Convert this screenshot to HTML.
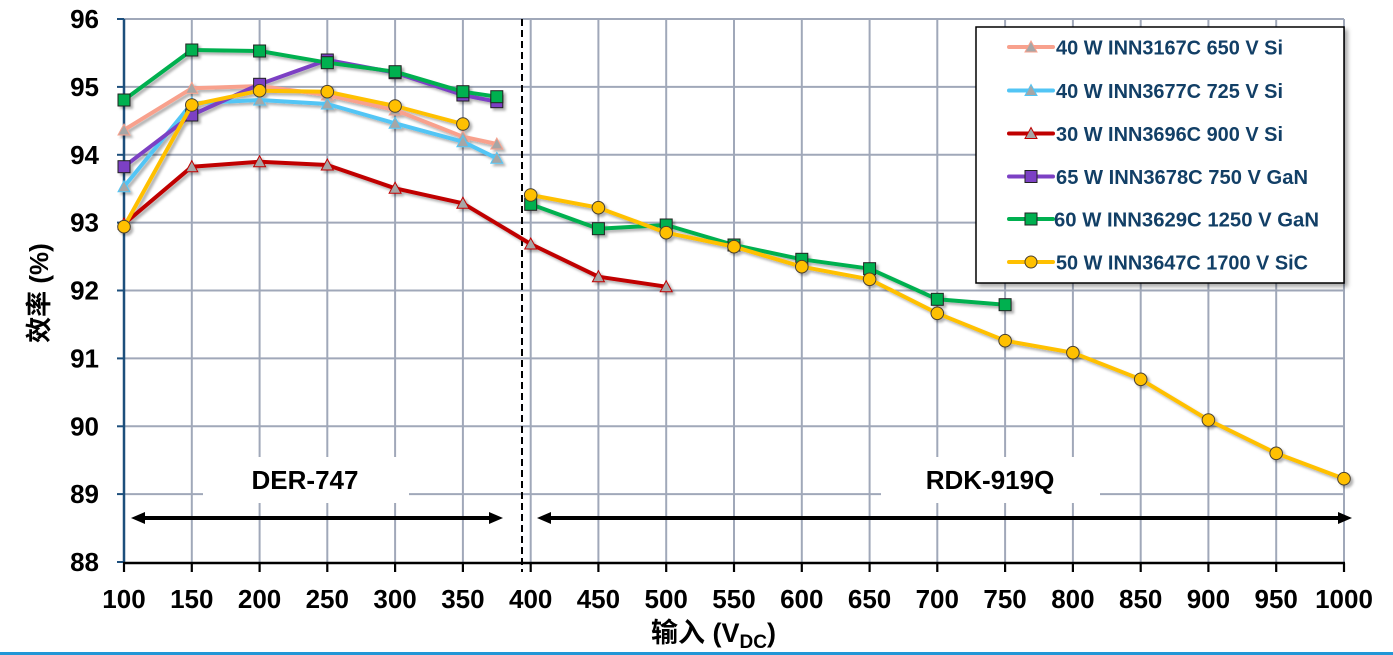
<!DOCTYPE html>
<html>
<head>
<meta charset="utf-8">
<style>
html,body{margin:0;padding:0;background:#fff;}
svg{display:block;}
text{font-family:"Liberation Sans","Noto Sans CJK SC",sans-serif;font-weight:bold;}
</style>
</head>
<body>
<svg width="1393" height="655" viewBox="0 0 1393 655" xmlns="http://www.w3.org/2000/svg">
<defs>
  <filter id="sh" x="-10%" y="-10%" width="130%" height="130%">
    <feDropShadow dx="2.5" dy="2.5" stdDeviation="1.4" flood-color="#000" flood-opacity="0.3"/>
  </filter>
  <filter id="lsh" x="-5%" y="-5%" width="115%" height="115%">
    <feDropShadow dx="3" dy="3" stdDeviation="2" flood-color="#000" flood-opacity="0.35"/>
  </filter>
  <marker id="tPink" markerUnits="userSpaceOnUse" markerWidth="16" markerHeight="16" refX="8" refY="8" viewBox="0 0 16 16" overflow="visible">
    <polygon points="8,2 14,13 2,13" fill="#a6a6a6" stroke="#f8a18d" stroke-width="1"/>
  </marker>
  <marker id="tCyan" markerUnits="userSpaceOnUse" markerWidth="16" markerHeight="16" refX="8" refY="8" viewBox="0 0 16 16" overflow="visible">
    <polygon points="8,2 14,13 2,13" fill="#a6a6a6" stroke="#52c5f5" stroke-width="1"/>
  </marker>
  <marker id="tRed" markerUnits="userSpaceOnUse" markerWidth="16" markerHeight="16" refX="8" refY="8" viewBox="0 0 16 16" overflow="visible">
    <polygon points="8,2 14,13 2,13" fill="#a6a6a6" stroke="#c00000" stroke-width="1"/>
  </marker>
  <marker id="sPur" markerUnits="userSpaceOnUse" markerWidth="16" markerHeight="16" refX="8" refY="8" viewBox="0 0 16 16" overflow="visible">
    <rect x="2" y="2" width="12" height="12" fill="#7c41c4" stroke="#222" stroke-width="1"/>
  </marker>
  <marker id="sGrn" markerUnits="userSpaceOnUse" markerWidth="16" markerHeight="16" refX="8" refY="8" viewBox="0 0 16 16" overflow="visible">
    <rect x="2" y="2" width="12" height="12" fill="#00b050" stroke="#222" stroke-width="1"/>
  </marker>
  <marker id="cYel" markerUnits="userSpaceOnUse" markerWidth="16" markerHeight="16" refX="8" refY="8" viewBox="0 0 16 16" overflow="visible">
    <circle cx="8" cy="8" r="6.3" fill="#ffc000" stroke="#4a4030" stroke-width="1"/>
  </marker>
</defs>

<!-- grid -->
<g stroke="#a0a8b9" stroke-width="2">
  <line x1="124" y1="19" x2="1344" y2="19"/>
  <line x1="124" y1="86.9" x2="1344" y2="86.9"/>
  <line x1="124" y1="154.8" x2="1344" y2="154.8"/>
  <line x1="124" y1="222.6" x2="1344" y2="222.6"/>
  <line x1="124" y1="290.5" x2="1344" y2="290.5"/>
  <line x1="124" y1="358.4" x2="1344" y2="358.4"/>
  <line x1="124" y1="426.3" x2="1344" y2="426.3"/>
  <line x1="124" y1="494.1" x2="1344" y2="494.1"/>
  <line x1="191.8" y1="19" x2="191.8" y2="562"/>
  <line x1="259.6" y1="19" x2="259.6" y2="562"/>
  <line x1="327.3" y1="19" x2="327.3" y2="562"/>
  <line x1="395.1" y1="19" x2="395.1" y2="562"/>
  <line x1="462.9" y1="19" x2="462.9" y2="562"/>
  <line x1="530.7" y1="19" x2="530.7" y2="562"/>
  <line x1="598.4" y1="19" x2="598.4" y2="562"/>
  <line x1="666.2" y1="19" x2="666.2" y2="562"/>
  <line x1="734" y1="19" x2="734" y2="562"/>
  <line x1="801.8" y1="19" x2="801.8" y2="562"/>
  <line x1="869.6" y1="19" x2="869.6" y2="562"/>
  <line x1="937.3" y1="19" x2="937.3" y2="562"/>
  <line x1="1005.1" y1="19" x2="1005.1" y2="562"/>
  <line x1="1072.9" y1="19" x2="1072.9" y2="562"/>
  <line x1="1140.7" y1="19" x2="1140.7" y2="562"/>
  <line x1="1208.4" y1="19" x2="1208.4" y2="562"/>
  <line x1="1276.2" y1="19" x2="1276.2" y2="562"/>
  <line x1="1344" y1="19" x2="1344" y2="562"/>
</g>

<!-- label boxes -->
<rect x="203" y="457" width="206" height="46" fill="#fff"/>
<rect x="881" y="457" width="219" height="46" fill="#fff"/>
<text x="305" y="489" font-size="26" text-anchor="middle" fill="#000">DER-747</text>
<text x="990" y="489" font-size="26" text-anchor="middle" fill="#000">RDK-919Q</text>

<!-- arrows -->
<g fill="#000" stroke="none">
  <rect x="140" y="516" width="354" height="4"/>
  <polygon points="131,518 145,512 145,524"/>
  <polygon points="503,518 489,512 489,524"/>
  <rect x="546" y="516" width="797" height="4"/>
  <polygon points="537,518 551,512 551,524"/>
  <polygon points="1352,518 1338,512 1338,524"/>
</g>

<!-- dashed divider -->
<line x1="522" y1="19" x2="522" y2="572" stroke="#000" stroke-width="2" stroke-dasharray="7,4"/>

<!-- axes -->
<line x1="124" y1="19" x2="124" y2="563" stroke="#1d4f7c" stroke-width="2.5"/>
<g stroke="#1d4f7c" stroke-width="2">
  <line x1="117" y1="19" x2="124" y2="19"/>
  <line x1="117" y1="86.9" x2="124" y2="86.9"/>
  <line x1="117" y1="154.8" x2="124" y2="154.8"/>
  <line x1="117" y1="222.6" x2="124" y2="222.6"/>
  <line x1="117" y1="290.5" x2="124" y2="290.5"/>
  <line x1="117" y1="358.4" x2="124" y2="358.4"/>
  <line x1="117" y1="426.3" x2="124" y2="426.3"/>
  <line x1="117" y1="494.1" x2="124" y2="494.1"/>
  <line x1="117" y1="562" x2="124" y2="562"/>
</g>
<line x1="123" y1="563" x2="1345" y2="563" stroke="#000" stroke-width="2.5"/>
<g stroke="#000" stroke-width="2.2">
  <line x1="124" y1="563" x2="124" y2="572"/>
  <line x1="191.8" y1="563" x2="191.8" y2="572"/>
  <line x1="259.6" y1="563" x2="259.6" y2="572"/>
  <line x1="327.3" y1="563" x2="327.3" y2="572"/>
  <line x1="395.1" y1="563" x2="395.1" y2="572"/>
  <line x1="462.9" y1="563" x2="462.9" y2="572"/>
  <line x1="530.7" y1="563" x2="530.7" y2="572"/>
  <line x1="598.4" y1="563" x2="598.4" y2="572"/>
  <line x1="666.2" y1="563" x2="666.2" y2="572"/>
  <line x1="734" y1="563" x2="734" y2="572"/>
  <line x1="801.8" y1="563" x2="801.8" y2="572"/>
  <line x1="869.6" y1="563" x2="869.6" y2="572"/>
  <line x1="937.3" y1="563" x2="937.3" y2="572"/>
  <line x1="1005.1" y1="563" x2="1005.1" y2="572"/>
  <line x1="1072.9" y1="563" x2="1072.9" y2="572"/>
  <line x1="1140.7" y1="563" x2="1140.7" y2="572"/>
  <line x1="1208.4" y1="563" x2="1208.4" y2="572"/>
  <line x1="1276.2" y1="563" x2="1276.2" y2="572"/>
  <line x1="1344" y1="563" x2="1344" y2="572"/>
</g>

<!-- y tick labels -->
<g font-size="26" text-anchor="end" fill="#000">
  <text x="99" y="28">96</text>
  <text x="99" y="95.9">95</text>
  <text x="99" y="163.8">94</text>
  <text x="99" y="231.6">93</text>
  <text x="99" y="299.5">92</text>
  <text x="99" y="367.4">91</text>
  <text x="99" y="435.3">90</text>
  <text x="99" y="503.1">89</text>
  <text x="99" y="571">88</text>
</g>

<!-- x tick labels -->
<g font-size="26" text-anchor="middle" fill="#000">
  <text x="124" y="608">100</text>
  <text x="191.8" y="608">150</text>
  <text x="259.6" y="608">200</text>
  <text x="327.3" y="608">250</text>
  <text x="395.1" y="608">300</text>
  <text x="462.9" y="608">350</text>
  <text x="530.7" y="608">400</text>
  <text x="598.4" y="608">450</text>
  <text x="666.2" y="608">500</text>
  <text x="734" y="608">550</text>
  <text x="801.8" y="608">600</text>
  <text x="869.6" y="608">650</text>
  <text x="937.3" y="608">700</text>
  <text x="1005.1" y="608">750</text>
  <text x="1072.9" y="608">800</text>
  <text x="1140.7" y="608">850</text>
  <text x="1208.4" y="608">900</text>
  <text x="1276.2" y="608">950</text>
  <text x="1344" y="608">1000</text>
</g>

<!-- axis titles -->
<text x="651" y="642" font-size="27" fill="#000">输入 (V<tspan font-size="19" dy="6">DC</tspan><tspan dy="-6">)</tspan></text>
<text transform="translate(48,293) rotate(-90)" font-size="26" text-anchor="middle" fill="#000">效率 (%)</text>

<!-- series -->
<g fill="none" stroke-width="4" stroke-linejoin="round" stroke-linecap="round" filter="url(#sh)">
  <polyline stroke="#f8a18d" marker-start="url(#tPink)" marker-mid="url(#tPink)" marker-end="url(#tPink)"
    points="124,130 191.8,88.3 259.6,86 327.3,95 395.1,110 462.9,136.7 496.8,144"/>
  <polyline stroke="#52c5f5" marker-start="url(#tCyan)" marker-mid="url(#tCyan)" marker-end="url(#tCyan)"
    points="124,186.7 191.8,103.3 259.6,100 327.3,104 395.1,123.3 462.9,141.7 496.8,158.3"/>
  <polyline stroke="#c00000" marker-start="url(#tRed)" marker-mid="url(#tRed)" marker-end="url(#tRed)"
    points="124,224 191.8,166.7 259.6,161.7 327.3,165 395.1,188.3 462.9,203.3 530.7,244 598.4,276.7 666.2,286.7"/>
  <polyline stroke="#7c41c4" marker-start="url(#sPur)" marker-mid="url(#sPur)" marker-end="url(#sPur)"
    points="124,166.7 191.8,115 259.6,84.3 327.3,60 395.1,72.7 462.9,95 496.8,101.7"/>
  <polyline stroke="#00b050" marker-start="url(#sGrn)" marker-mid="url(#sGrn)" marker-end="url(#sGrn)"
    points="124,100 191.8,50 259.6,51 327.3,62.7 395.1,71.7 462.9,91.7 496.8,96.7"/>
  <polyline stroke="#00b050" marker-start="url(#sGrn)" marker-mid="url(#sGrn)" marker-end="url(#sGrn)"
    points="530.7,204.3 598.4,228.7 666.2,225 734,245 801.8,259.3 869.6,268.7 937.3,299.3 1005.1,304.7"/>
  <polyline stroke="#ffc000" marker-start="url(#cYel)" marker-mid="url(#cYel)" marker-end="url(#cYel)"
    points="124,226.7 191.8,105 259.6,90.7 327.3,91.7 395.1,106 462.9,124"/>
  <polyline stroke="#ffc000" marker-start="url(#cYel)" marker-mid="url(#cYel)" marker-end="url(#cYel)"
    points="530.7,195 598.4,207.7 666.2,232.7 734,246.7 801.8,266.7 869.6,279.3 937.3,313.3 1005.1,340.7 1072.9,352.7 1140.7,379.3 1208.4,420 1276.2,453.3 1344,478.7"/>
</g>

<!-- legend -->
<rect x="976" y="27" width="368" height="256" fill="#fff" stroke="#000" stroke-width="1.5" filter="url(#lsh)"/>
<g stroke-width="4" stroke-linecap="round">
  <line x1="1009" y1="47" x2="1053" y2="47" stroke="#f8a18d"/>
  <line x1="1009" y1="90.5" x2="1053" y2="90.5" stroke="#52c5f5"/>
  <line x1="1009" y1="133.5" x2="1053" y2="133.5" stroke="#c00000"/>
  <line x1="1009" y1="176.5" x2="1053" y2="176.5" stroke="#7c41c4"/>
  <line x1="1009" y1="219" x2="1053" y2="219" stroke="#00b050"/>
  <line x1="1009" y1="262" x2="1053" y2="262" stroke="#ffc000"/>
</g>
<polygon points="1031,41 1037,52 1025,52" fill="#a6a6a6" stroke="#f8a18d" stroke-width="1"/>
<polygon points="1031,84.5 1037,95.5 1025,95.5" fill="#a6a6a6" stroke="#52c5f5" stroke-width="1"/>
<polygon points="1031,127.5 1037,138.5 1025,138.5" fill="#a6a6a6" stroke="#c00000" stroke-width="1"/>
<rect x="1025" y="170.5" width="12" height="12" fill="#7c41c4" stroke="#222" stroke-width="1"/>
<rect x="1025" y="213" width="12" height="12" fill="#00b050" stroke="#222" stroke-width="1"/>
<circle cx="1031" cy="262" r="6" fill="#ffc000" stroke="#4a4030" stroke-width="1"/>
<g font-size="20" fill="#123f66">
  <text x="1056" y="54.5" textLength="227" lengthAdjust="spacingAndGlyphs">40 W INN3167C 650 V Si</text>
  <text x="1056" y="98" textLength="227" lengthAdjust="spacingAndGlyphs">40 W INN3677C 725 V Si</text>
  <text x="1056" y="141" textLength="227" lengthAdjust="spacingAndGlyphs">30 W INN3696C 900 V Si</text>
  <text x="1056" y="184" textLength="252" lengthAdjust="spacingAndGlyphs">65 W INN3678C 750 V GaN</text>
  <text x="1054" y="226.5" textLength="265" lengthAdjust="spacingAndGlyphs">60 W INN3629C 1250 V GaN</text>
  <text x="1056" y="269.5" textLength="252" lengthAdjust="spacingAndGlyphs">50 W INN3647C 1700 V SiC</text>
</g>

<!-- bottom blue rule -->
<rect x="0" y="652" width="1393" height="3" fill="#2196d6"/>
</svg>
</body>
</html>
